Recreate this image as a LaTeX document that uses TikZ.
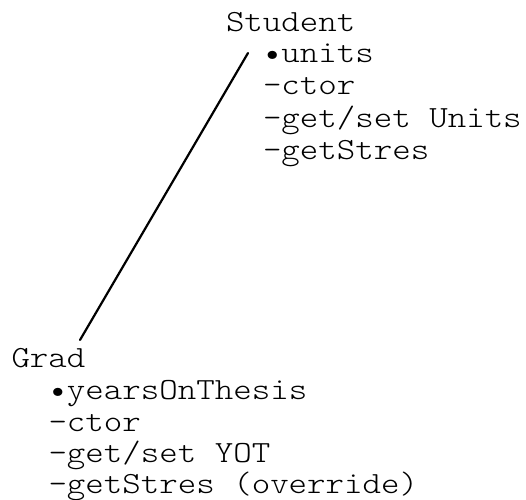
\documentclass[tikz,border=0pt]{standalone}
\usepackage{fontspec}
\setmonofont[FakeStretch=1.143]{Latin Modern Mono Light}
\begin{document}
\begin{tikzpicture}[x=1pt,y=1pt,
  txt/.style={anchor=base west,inner sep=0pt,outer sep=0pt,font=\ttfamily\fontsize{30.8pt}{31.7pt}\selectfont},
  link/.style={line width=2.2pt,line cap=round}]
\useasboundingbox (0,0) rectangle (526,499);
% Student block
\node[txt] (st)  at (226,467) {Student};
\node[txt] (st1) at (263,436) {•units};
\node[txt] (st2) at (263,404) {-ctor};
\node[txt] (st3) at (263,372) {-get/set Units};
\node[txt] (st4) at (263,340) {-getStres};
% Grad block
\node[txt] (gr)  at (11.5,132) {Grad};
\node[txt] (gr1) at (48.5,100) {•yearsOnThesis};
\node[txt] (gr2) at (48.5,68) {-ctor};
\node[txt] (gr3) at (48.5,37) {-get/set YOT};
\node[txt] (gr4) at (48.5,6) {-getStres (override)};
% connector
\coordinate (stend) at (248,446);
\coordinate (grend) at (80,159);
\draw[link] (stend) -- (grend);
\end{tikzpicture}
\end{document}
